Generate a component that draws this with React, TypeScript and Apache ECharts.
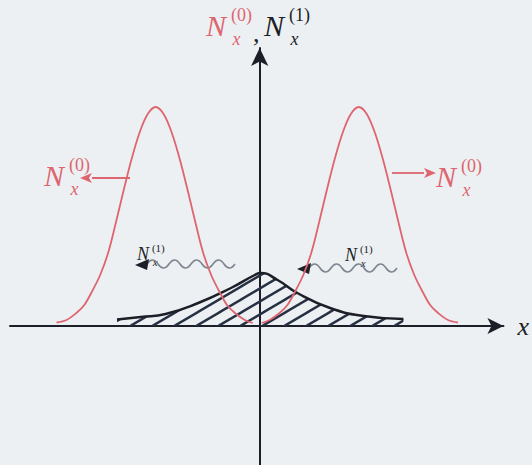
import React, { useEffect, useRef } from "react";
import * as echarts from "echarts";

// Unperturbed distributions N_x^(0): two pulses either side of the origin.
const leftPulse: [number, number][] = [
  [-20.5, 0.35], [-19.5, 0.6], [-18.5, 1.3], [-17.7, 2.1], [-16.9, 3.5],
  [-16.1, 5.1], [-15.3, 7.3], [-14.5, 10.4], [-13.7, 13.7], [-12.9, 16.8],
  [-12.1, 19.4], [-11.3, 21.2], [-10.5, 21.9], [-9.7, 21.2], [-8.9, 19.4],
  [-8.1, 16.8], [-7.3, 13.7], [-6.5, 10.4], [-5.7, 7.3], [-4.9, 5.1],
  [-4.1, 3.5], [-3.3, 2.1], [-2.5, 1.3], [-1.5, 0.6], [-0.7, 0.3],
];

const rightPulse: [number, number][] = [
  [0.2, 0.3], [1.0, 0.6], [2.0, 1.3], [2.8, 2.1], [3.6, 3.5],
  [4.4, 5.1], [5.2, 7.3], [6.0, 10.4], [6.8, 13.7], [7.6, 16.8],
  [8.4, 19.4], [9.2, 21.2], [10.0, 21.9], [10.8, 21.2], [11.6, 19.4],
  [12.4, 16.8], [13.2, 13.7], [14.0, 10.4], [14.8, 7.3], [15.6, 5.1],
  [16.4, 3.5], [17.2, 2.1], [18.0, 1.3], [19.0, 0.6], [20.0, 0.35],
];

// Scattered component N_x^(1), centred on the origin.
const scatteredPulse: [number, number][] = [
  [-14.4, 0.65], [-12.0, 0.9], [-9.5, 1.2], [-6.2, 2.3], [-2.9, 3.8],
  [-0.5, 5.1], [0.1, 5.3], [1.8, 4.6], [3.8, 3.3], [7.1, 1.8],
  [10.5, 1.0], [14.5, 0.7],
];

const X_MIN = -25.2;
const X_MAX = 24.6;
const Y_MIN = -13.9;
const Y_MAX = 27.8;

const BG = "#edf0f2";
const RED = "#de6570";
const INK = "#1c1f27";
const WAVE = "#7d8591";
const SERIF = '"Liberation Serif", "DejaVu Serif", serif';

echarts.graphic.registerShape(
  "wave",
  echarts.graphic.extendPath(
    "M0 0 Q5.5 -8 11 0 T22 0 T33 0 T44 0 T55 0 T66 0 T77 0 T88 0",
    {}
  )
);

function hatchPattern(color: string) {
  const w = 22;
  const h = 13;
  const c = document.createElement("canvas");
  c.width = w;
  c.height = h;
  const ctx = c.getContext("2d")!;
  ctx.strokeStyle = color;
  ctx.lineWidth = 2.4;
  const e = 4;
  for (const dx of [-w, 0, w]) {
    ctx.beginPath();
    ctx.moveTo(dx - e, h + (e * h) / w);
    ctx.lineTo(dx + w + e, -(e * h) / w);
    ctx.stroke();
  }
  return { image: c, repeat: "repeat" as const };
}

// N with a subscript x and a bracketed superscript order.
function quantity(
  x: number,
  y: number,
  order: string,
  color: string,
  size: number
) {
  const small = Math.round(size * 0.6);
  return [
    {
      type: "text",
      x,
      y,
      style: {
        text: "N",
        font: `italic ${size}px ${SERIF}`,
        fill: color,
        verticalAlign: "middle",
      },
    },
    {
      type: "text",
      x: x + size * 0.83,
      y: y - size * 0.33,
      style: {
        text: `(${order})`,
        font: `${small}px ${SERIF}`,
        fill: color,
        verticalAlign: "middle",
      },
    },
    {
      type: "text",
      x: x + size * 0.88,
      y: y + size * 0.45,
      style: {
        text: "x",
        font: `italic ${small}px ${SERIF}`,
        fill: color,
        verticalAlign: "middle",
      },
    },
  ];
}

function arrowLine(x1: number, x2: number, y: number, color: string) {
  const dir = Math.sign(x2 - x1);
  const base = x2 - dir * 12;
  return [
    {
      type: "line",
      shape: { x1, y1: y, x2: base, y2: y },
      style: { stroke: color, lineWidth: 1.8 },
    },
    {
      type: "polygon",
      shape: { points: [[x2, y], [base, y - 5], [base + dir * 3, y], [base, y + 5]] },
      style: { fill: color },
    },
  ];
}

function wavyArrow(x: number, y: number) {
  return [
    {
      type: "wave",
      x: x + 12,
      y,
      style: { stroke: WAVE, fill: "none", lineWidth: 1.6 },
    },
    {
      type: "polygon",
      shape: { points: [[x, y + 1], [x + 14, y - 5], [x + 12, y + 6]] },
      style: { fill: INK },
    },
  ];
}

export default function App() {
  const ref = useRef<HTMLDivElement>(null);

  useEffect(() => {
    if (!ref.current) return;
    const chart = echarts.init(ref.current, undefined, { renderer: "svg" });

    const hiddenAxisParts = {
      axisTick: { show: false },
      axisLabel: { show: false },
      splitLine: { show: false },
    };

    const pulseLine = { color: RED, width: 1.8 };

    chart.setOption({
      animation: false,
      backgroundColor: BG,
      grid: { left: 10, right: 24, top: 48, bottom: 0 },
      xAxis: {
        type: "value",
        min: X_MIN,
        max: X_MAX,
        name: "x",
        nameLocation: "end",
        nameGap: 14,
        nameTextStyle: {
          fontFamily: SERIF,
          fontStyle: "italic",
          fontSize: 26,
          color: INK,
        },
        axisLine: {
          onZero: true,
          symbol: ["none", "arrow"],
          symbolSize: [12, 16],
          lineStyle: { color: INK, width: 2 },
        },
        ...hiddenAxisParts,
      },
      yAxis: {
        type: "value",
        min: Y_MIN,
        max: Y_MAX,
        axisLine: {
          onZero: true,
          symbol: ["none", "arrow"],
          symbolSize: [13, 18],
          lineStyle: { color: INK, width: 2 },
        },
        ...hiddenAxisParts,
      },
      series: [
        {
          type: "line",
          data: scatteredPulse,
          smooth: 0.5,
          symbol: "none",
          lineStyle: { color: INK, width: 2.5 },
          areaStyle: { color: hatchPattern("#263043"), opacity: 1 },
          z: 2,
        },
        {
          type: "line",
          data: leftPulse,
          smooth: 0.35,
          symbol: "none",
          lineStyle: pulseLine,
          z: 3,
        },
        {
          type: "line",
          data: rightPulse,
          smooth: 0.35,
          symbol: "none",
          lineStyle: pulseLine,
          z: 3,
        },
      ],
      graphic: {
        elements: [
          ...quantity(206, 25, "0", RED, 30),
          {
            type: "text",
            x: 253,
            y: 33,
            style: { text: ",", font: `26px ${SERIF}`, fill: INK, verticalAlign: "middle" },
          },
          ...quantity(264, 25, "1", INK, 30),
          ...quantity(44, 175, "0", RED, 30),
          ...arrowLine(130, 80, 178, RED),
          ...quantity(436, 176, "0", RED, 30),
          ...arrowLine(392, 436, 173, RED),
          ...quantity(137, 254, "1", INK, 18),
          ...wavyArrow(135, 264),
          ...quantity(345, 255, "1", INK, 18),
          ...wavyArrow(297, 268),
        ],
      },
    });

    return () => chart.dispose();
  }, []);

  return (
    <div
      ref={ref}
      style={{
        position: "fixed",
        left: 0,
        top: 0,
        width: 532,
        height: 465,
        background: BG,
      }}
    />
  );
}
